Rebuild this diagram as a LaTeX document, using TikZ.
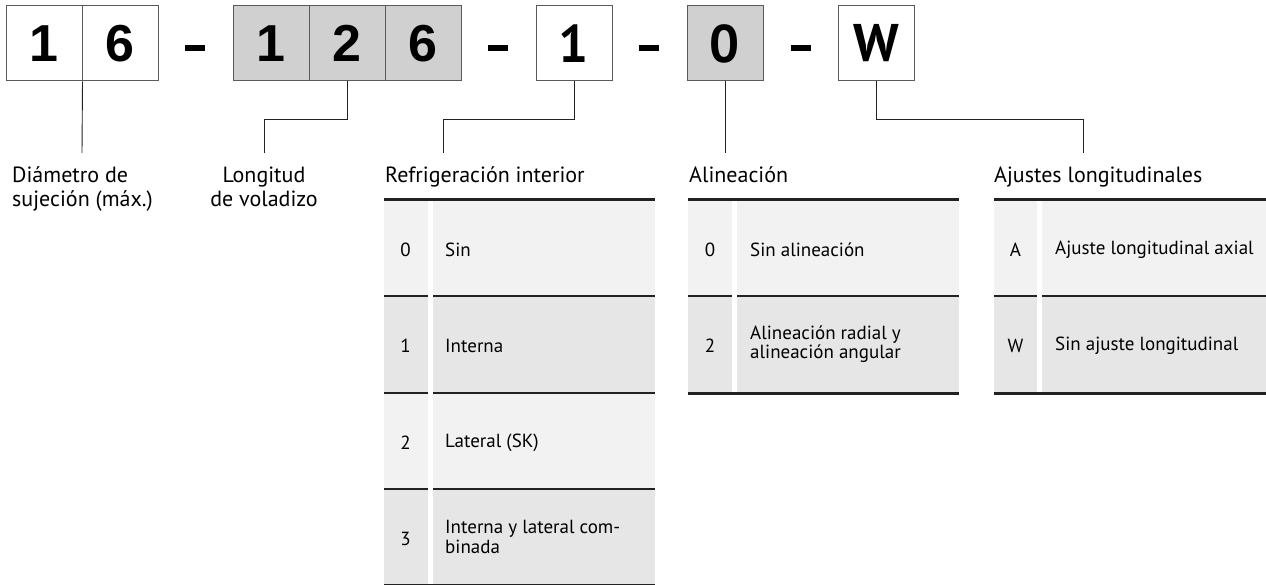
\documentclass[tikz,border=0pt]{standalone}
\usepackage{fontspec}
\setmainfont{PT Sans}
\newfontfamily\boxfont{Liberation Sans}
\usetikzlibrary{calc}
\definecolor{boxgray}{HTML}{D0D0D0}
\definecolor{rowA}{HTML}{F2F2F2}
\definecolor{rowB}{HTML}{E6E6E6}
\definecolor{edge}{HTML}{5A5A5A}
\definecolor{rule}{HTML}{222222}
\tikzset{
  digit/.style={draw=edge, line width=1pt, minimum width=76pt, minimum height=75pt, inner sep=0pt, font=\boxfont\bfseries\fontsize{52}{52}\selectfont},
  digitB/.style={digit, font=\bfseries\fontsize{53}{53}\selectfont},
  graybox/.style={fill=boxgray},
  sep/.style={inner sep=0pt, text=black},
  conn/.style={draw=rule, line width=0.9pt},
  label/.style={inner sep=0pt, font=\fontsize{22}{23.5}\selectfont},
  head/.style={inner sep=0pt, anchor=base west, font=\fontsize{22}{24}\selectfont},
  num/.style={inner sep=0pt, font=\fontsize{19}{20}\selectfont},
  txt/.style={inner sep=0pt, anchor=west, align=left, font=\fontsize{19}{19.5}\selectfont},
  thick rule/.style={draw=rule, line width=3pt},
  thin rule/.style={draw=rule, line width=1.1pt},
}
\newcommand{\codedash}{\rule{20pt}{5.5pt}}
\begin{document}
\begin{tikzpicture}[x=1pt,y=-1pt]
\useasboundingbox (0,0) rectangle (1266,585);
% code boxes
\node[digit] (b1) at (44,43.5) {1};
\node[digit] (b2) at (120,43.5) {6};
\node[sep] (d1) at (195,48) {\codedash};
\node[digit,graybox] (b3) at (271,43.5) {1};
\node[digit,graybox] (b4) at (347,43.5) {2};
\node[digit,graybox] (b5) at (423,43.5) {6};
\node[sep] (d2) at (498,48) {\codedash};
\node[digitB] (b6) at (574,43.5) {1};
\node[sep] (d3) at (649,48) {\codedash};
\node[digitB,graybox] (b7) at (725,43.5) {0};
\node[sep] (d4) at (801,48) {\codedash};
\node[digitB] (b8) at (876,43.5) {W};

% connector ends
\coordinate (e1) at (82,153);
\coordinate (e2) at (264,153);
\coordinate (e3) at (443,153);
\coordinate (e4) at (725,153);
\coordinate (e5) at (1083,153);
\draw[conn] (b1.south east) -- (e1);
\draw[conn] (b4.south) -- ++(0,38) -| (e2);
\draw[conn] (b6.south) -- ++(0,38) -| (e3);
\draw[conn] (b7.south) -- (e4);
\draw[conn] (b8.south) -- ++(0,38) -| (e5);

% labels
\node[label, align=left, anchor=base west] (l1) at (12,206.5) {Diámetro de\\sujeción (máx.)};
\node[label, align=center, anchor=base] (l2) at (264,206.5) {Longitud\\de voladizo};
\node[head] (h1) at (385,183) {Refrigeración interior};
\node[head] (h2) at (689,183) {Alineación};
\node[head] (h3) at (994,183) {Ajustes longitudinales};

% table 1
\fill[rowA] (384,200) rectangle (655,296);
\fill[rowB] (384,296) rectangle (655,393);
\fill[rowA] (384,393) rectangle (655,489);
\fill[rowB] (384,489) rectangle (655,585);
\draw[thin rule] (384,296) -- (655,296);
\draw[thin rule] (384,393) -- (655,393);
\draw[thin rule] (384,489) -- (655,489);
\draw[thin rule] (384,584.4) -- (655,584.4);
\fill[white] (427.5,201) rectangle (432.5,584);
\draw[thick rule] (384,200) -- (655,200);
\node[num] at (405.5,250) {0};
\node[txt] at (445,250) {Sin};
\node[num] at (405.5,346) {1};
\node[txt] at (445,346) {Interna};
\node[num] at (405.5,443) {2};
\node[txt] at (445,443) {Lateral (SK)};
\node[num] at (405.5,539) {3};
\node[txt] at (445,537) {Interna y lateral com-\\binada};

% table 2
\fill[rowA] (688,200) rectangle (959,296);
\fill[rowB] (688,296) rectangle (959,393);
\draw[thin rule] (688,296) -- (959,296);
\fill[white] (732,201) rectangle (737,392);
\draw[thick rule] (688,200) -- (959,200);
\draw[thick rule] (688,393) -- (959,393);
\node[num] at (710,250) {0};
\node[txt] at (750,250) {Sin alineación};
\node[num] at (710,346) {2};
\node[txt] at (750,344) {Alineación radial y\\alineación angular};

% table 3
\fill[rowA] (994,200) rectangle (1266,296);
\fill[rowB] (994,296) rectangle (1266,393);
\draw[thin rule] (994,296) -- (1266,296);
\fill[white] (1037,201) rectangle (1042,392);
\draw[thick rule] (994,200) -- (1266,200);
\draw[thick rule] (994,393) -- (1266,393);
\node[num] at (1015.5,250) {A};
\node[txt] at (1055,250) {Ajuste longitudinal axial};
\node[num] at (1015.5,346) {W};
\node[txt] at (1055,346) {Sin ajuste longitudinal};
\end{tikzpicture}
\end{document}
